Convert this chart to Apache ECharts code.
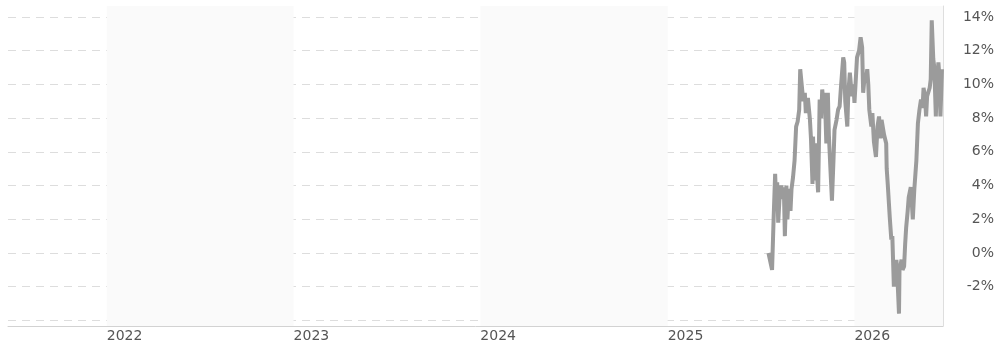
<!DOCTYPE html>
<html>
<head>
<meta charset="utf-8">
<script src="https://cdn.jsdelivr.net/npm/echarts@6/dist/echarts.min.js"></script>
<style>
	html, body { margin: 0; padding: 0; background: #fff; }
	#chart { width: 997px; height: 345px; }
</style>
</head>
<body>
<div id="chart"></div>
<script>
// dates of the return series
const dates = [
	'2025-07-17', '2025-07-20', '2025-07-24', '2025-07-27', '2025-07-30', '2025-08-01', '2025-08-03', '2025-08-05',
	'2025-08-08', '2025-08-11', '2025-08-14', '2025-08-16', '2025-08-18', '2025-08-21', '2025-08-23', '2025-08-26',
	'2025-08-29', '2025-08-31', '2025-09-03', '2025-09-06', '2025-09-09', '2025-09-12', '2025-09-15', '2025-09-17',
	'2025-09-20', '2025-09-23', '2025-09-26', '2025-09-28', '2025-10-02', '2025-10-06', '2025-10-08', '2025-10-11',
	'2025-10-12', '2025-10-15', '2025-10-17', '2025-10-19', '2025-10-22', '2025-10-25', '2025-10-28', '2025-10-30',
	'2025-11-02', '2025-11-04', '2025-11-07', '2025-11-10', '2025-11-12', '2025-11-15', '2025-11-18', '2025-11-21',
	'2025-11-23', '2025-11-27', '2025-11-30', '2025-12-03', '2025-12-06', '2025-12-10', '2025-12-12', '2025-12-14',
	'2025-12-18', '2025-12-20', '2025-12-23', '2025-12-25', '2025-12-27', '2025-12-30', '2026-01-01', '2026-01-04',
	'2026-01-06', '2026-01-10', '2026-01-13', '2026-01-16', '2026-01-18', '2026-01-21', '2026-01-23', '2026-01-26',
	'2026-01-28', '2026-01-30', '2026-02-03', '2026-02-05', '2026-02-08', '2026-02-09', '2026-02-12', '2026-02-15',
	'2026-02-18', '2026-02-21', '2026-02-23', '2026-02-26', '2026-02-28', '2026-03-04', '2026-03-05', '2026-03-07',
	'2026-03-11', '2026-03-14', '2026-03-16', '2026-03-19', '2026-03-22', '2026-03-24', '2026-03-26', '2026-03-29',
	'2026-03-30', '2026-04-03', '2026-04-05', '2026-04-08', '2026-04-10', '2026-04-12', '2026-04-15', '2026-04-17',
	'2026-04-21', '2026-04-22', '2026-04-25', '2026-04-28', '2026-05-02', '2026-05-05', '2026-05-08', '2026-05-11',
	'2026-05-14', '2026-05-16', '2026-05-19', '2026-05-21', '2026-05-23', '2026-05-26', '2026-05-28', '2026-05-30',
	'2026-06-01', '2026-06-04', '2026-06-06', '2026-06-09', '2026-06-11', '2026-06-14', '2026-06-16', '2026-06-18',
	'2026-06-21',
]
// 收益率 (%)
const values = [
	0.0, -0.1, -1.0, 2.0, 4.7, 3.0, 4.2, 1.8,
	3.5, 4.0, 3.2, 3.9, 1.0, 4.0, 2.0, 3.8,
	2.5, 3.8, 4.5, 5.5, 7.5, 7.8, 8.5, 10.9,
	10.8, 9.0, 9.5, 8.3, 9.2, 7.9, 6.8, 4.1,
	6.9, 4.3, 6.5, 5.0, 3.6, 9.1, 8.0, 9.7,
	8.6, 9.5, 6.5, 9.5, 7.0, 5.0, 3.1, 5.5,
	7.3, 7.9, 8.5, 8.7, 10.0, 11.6, 11.3, 9.0,
	7.5, 9.5, 10.7, 10.0, 9.3, 10.0, 8.9, 10.5,
	11.6, 12.0, 12.8, 12.2, 9.5, 10.5, 10.2, 10.9,
	10.0, 8.5, 7.5, 8.3, 6.6, 6.5, 5.7, 7.5,
	8.1, 6.8, 7.9, 8.0, 7.0, 6.5, 5.0, 4.1,
	2.1, 0.8, 1.0, -2.0, -0.8, -0.4, -1.5, -3.6,
	-1.0, -0.4, -1.0, -0.8, 0.5, 1.5, 2.5, 3.3,
	3.9, 3.5, 2.0, 3.8, 5.5, 7.7, 8.5, 9.1,
	8.6, 9.8, 9.2, 8.1, 9.3, 9.4, 9.8, 10.3,
	13.8, 11.5, 11.0, 8.1, 10.0, 11.3, 10.5, 8.1,
	10.9,
]
// 年份刻度
const yearTicks = ['2022-01-01', '2023-01-01', '2024-01-01', '2025-01-01', '2026-01-01']
// 阴影年份区间
const shadedYears = [
	['2022-01-01', '2023-01-01'],
	['2024-01-01', '2025-01-01'],
	['2026-01-01', '2026-06-23'],
]
// y 轴刻度
const yTicks = [-4, -2, 0, 2, 4, 6, 8, 10, 12, 14]
const yLabels = [-2, 0, 2, 4, 6, 8, 10, 12, 14]
const xMin = '2021-06-22'
const xMax = '2026-06-23'

// 日期转时间戳
const ts = (d) => Date.parse(d + 'T00:00:00Z')

const chartInstance = echarts.init(document.getElementById('chart'))
const option = {
	animation: false,
	grid: {
		left: 8,
		right: 52,
		top: 6,
		bottom: 19,
	},
	xAxis: {
		type: 'value',
		min: ts(xMin),
		max: ts(xMax),
		axisLine: {
			show: true,
			onZero: false,
			lineStyle: { color: '#d2d2d2', width: 1 },
		},
		axisTick: {
			show: false,
			customValues: yearTicks.map(ts),
		},
		splitLine: { show: false },
		axisLabel: {
			customValues: yearTicks.map(ts),
			formatter: (v) => String(new Date(v).getUTCFullYear()),
			align: 'left',
			margin: 3,
			color: '#555',
			fontSize: 14,
			fontFamily: 'DejaVu Sans',
		},
	},
	yAxis: {
		type: 'value',
		position: 'right',
		min: -4.33,
		max: 14.65,
		axisLine: {
			show: true,
			lineStyle: { color: '#dedede', width: 1 },
		},
		axisTick: {
			show: false,
			customValues: yTicks,
		},
		splitLine: {
			show: true,
			lineStyle: {
				color: '#dddddd',
				type: [8, 6],
				width: 1,
			},
		},
		axisLabel: {
			customValues: yLabels,
			formatter: '{value}%',
			align: 'right',
			margin: 51,
			color: '#555',
			fontSize: 14,
			fontFamily: 'DejaVu Sans',
		},
	},
	series: [
		{
			type: 'line',
			data: dates.map((d, i) => [ts(d), values[i]]),
			symbol: 'none',
			lineStyle: { color: '#9b9b9b', width: 4 },
			itemStyle: { color: '#9b9b9b' },
			markArea: {
				silent: true,
				itemStyle: { color: '#fafafa', opacity: 1 },
				data: shadedYears.map((r) => [{ xAxis: ts(r[0]) }, { xAxis: ts(r[1]) }]),
			},
		},
	],
}
chartInstance.setOption(option)
</script>
</body>
</html>
